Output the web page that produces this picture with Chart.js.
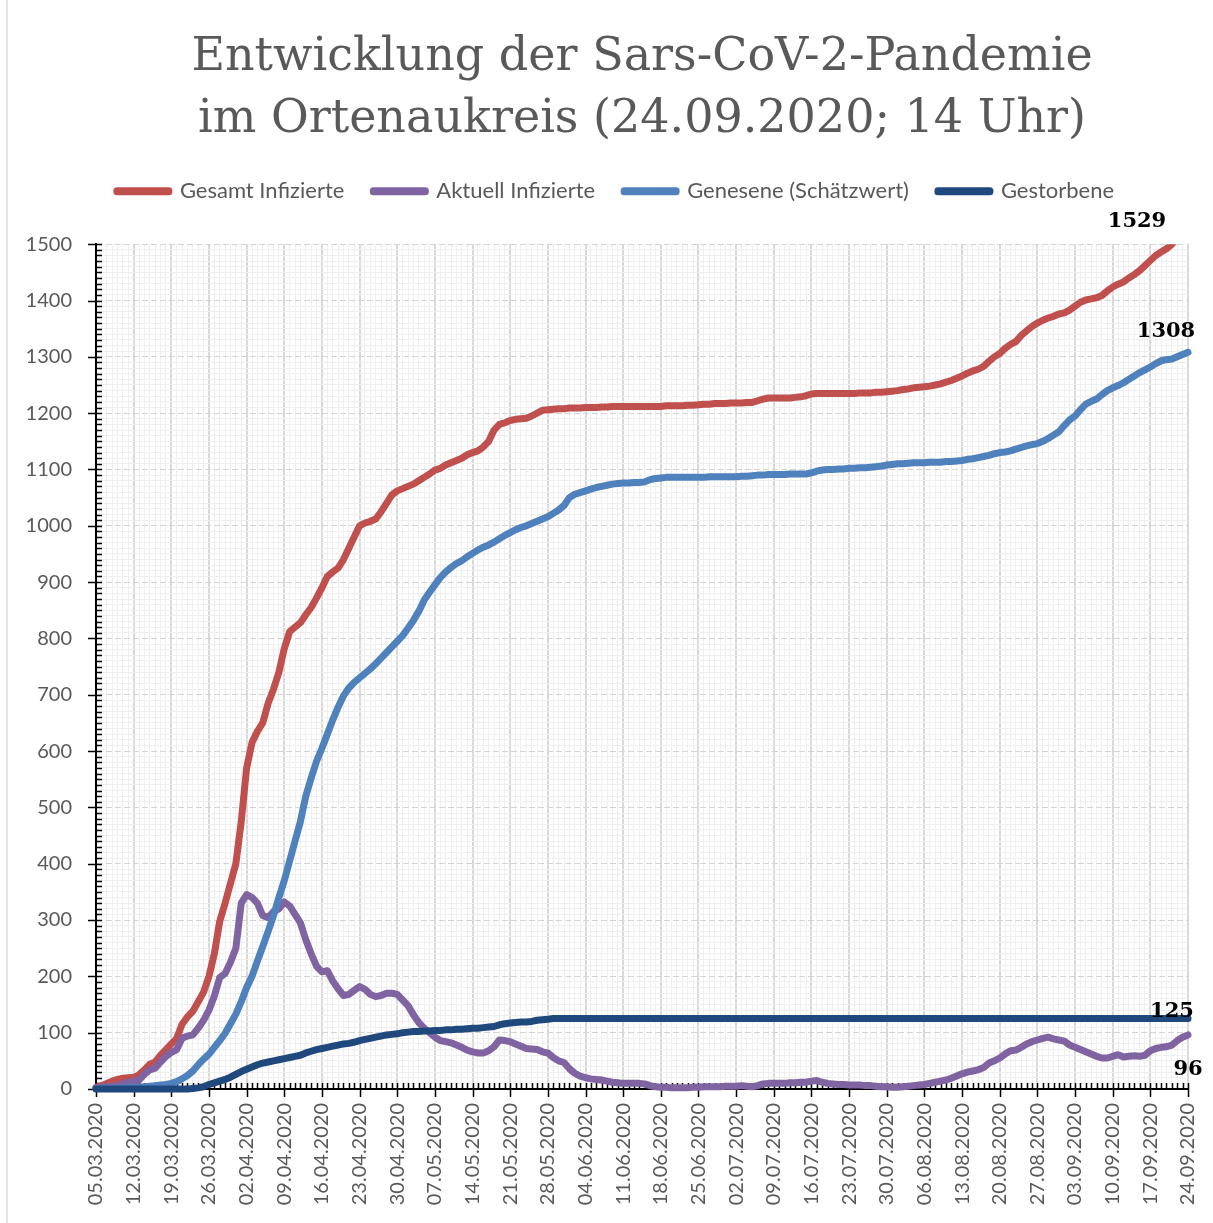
<!DOCTYPE html>
<html>
<head>
<meta charset="utf-8">
<title>Entwicklung der Sars-CoV-2-Pandemie im Ortenaukreis</title>
<script src="https://cdn.jsdelivr.net/npm/chart.js@4.4.0/dist/chart.umd.min.js"></script>
<style>
  html, body { margin: 0; padding: 0; background: #fff; }
  canvas { display: block; }
</style>
</head>
<body>
<canvas id="chart" width="1213" height="1223"></canvas>
<script>
// Daily values from 05.03.2020 to 24.09.2020, one row per week

const startDate = new Date(2020, 2, 5);

const gesamtInfizierte = [
    3, 6, 10, 14, 17, 19, 20,
    21, 25, 34, 44, 48, 60, 70,
    80, 90, 115, 128, 138, 155, 172,
    200, 240, 298, 330, 365, 400, 475,
    570, 615, 635, 650, 685, 710, 740,
    782, 812, 820, 828, 842, 855, 872,
    890, 910, 918, 925, 940, 960, 980,
    1000, 1005, 1008, 1012, 1025, 1040, 1055,
    1062, 1066, 1070, 1074, 1080, 1086, 1092,
    1099, 1102, 1108, 1112, 1116, 1120, 1126,
    1130, 1133, 1140, 1150, 1170, 1180, 1183,
    1187, 1189, 1190, 1191, 1195, 1200, 1205,
    1206, 1207, 1208, 1208, 1209, 1209, 1209,
    1210, 1210, 1210, 1211, 1211, 1212, 1212,
    1212, 1212, 1212, 1212, 1212, 1212, 1212,
    1212, 1213, 1213, 1213, 1213, 1214, 1214,
    1215, 1216, 1216, 1217, 1217, 1217, 1218,
    1218, 1218, 1219, 1219, 1222, 1225, 1227,
    1227, 1227, 1227, 1227, 1228, 1229, 1231,
    1234, 1235, 1235, 1235, 1235, 1235, 1235,
    1235, 1235, 1236, 1236, 1236, 1237, 1237,
    1238, 1239, 1240, 1242, 1243, 1245, 1246,
    1247, 1248, 1250, 1252, 1255, 1258, 1262,
    1266, 1271, 1275, 1278, 1283, 1292, 1300,
    1306, 1315, 1322, 1327, 1338, 1346, 1354,
    1360, 1365, 1369, 1372, 1376, 1378, 1383,
    1390, 1397, 1401, 1403, 1405, 1409, 1417,
    1424, 1429, 1433, 1440, 1446, 1453, 1462,
    1471, 1480, 1486, 1492, 1500, 1510, 1518,
    1529
];

const aktuellInfizierte = [
    2, 3, 4, 5, 6, 9, 12,
    14, 16, 26, 34, 37, 48, 58,
    65, 70, 90, 94, 96, 108, 122,
    140, 165, 198, 205, 225, 250, 330,
    345, 340, 330, 308, 304, 315, 320,
    332, 325, 310, 295, 265, 240, 218,
    208, 210, 192, 178, 166, 168, 175,
    182, 177, 168, 164, 166, 170, 170,
    168, 158, 148, 132, 118, 108, 100,
    92, 86, 84, 82, 78, 74, 69,
    66, 64, 64, 68, 75, 87, 86,
    84, 80, 76, 72, 71, 70, 66,
    64, 56, 50, 47, 36, 28, 23,
    20, 18, 17, 16, 14, 12, 11,
    10, 10, 10, 10, 9, 6, 4,
    3, 3, 2, 2, 2, 2, 3,
    3, 4, 4, 4, 4, 5, 5,
    5, 6, 5, 4, 6, 9, 10,
    10, 10, 10, 11, 11, 12, 12,
    14, 15, 12, 10, 9, 8, 8,
    7, 7, 7, 6, 6, 5, 4,
    4, 3, 3, 4, 5, 6, 7,
    8, 10, 12, 14, 16, 19, 23,
    27, 30, 32, 34, 38, 46, 50,
    55, 62, 68, 69, 74, 80, 84,
    87, 90, 92, 89, 87, 85, 78,
    74, 70, 66, 62, 58, 55, 55,
    58, 61, 57, 58, 59, 58, 60,
    68, 72, 74, 75, 78, 86, 92,
    96
];

const genesene = [
    1, 1, 1, 1, 1, 2, 2,
    2, 3, 4, 5, 6, 7, 8,
    10, 13, 18, 24, 32, 43, 53,
    62, 74, 86, 99, 116, 133, 155,
    180, 200, 227, 253, 280, 308, 340,
    370, 405, 440, 475, 520, 552, 582,
    605, 630, 655, 678, 698, 712, 722,
    730, 738, 746, 755, 765, 775, 785,
    795, 805, 818, 832, 848, 868, 882,
    895, 908, 918, 926, 933, 938, 945,
    951, 957, 962, 966, 971, 977, 983,
    988, 993, 997, 1000, 1004, 1008, 1012,
    1016, 1022, 1028, 1036, 1050, 1056, 1059,
    1062, 1065, 1068, 1070, 1072, 1074, 1075,
    1076, 1076, 1077, 1077, 1078, 1082, 1084,
    1085, 1086, 1086, 1086, 1086, 1086, 1086,
    1086, 1086, 1087, 1087, 1087, 1087, 1087,
    1087, 1088, 1088, 1089, 1090, 1090, 1091,
    1091, 1091, 1091, 1092, 1092, 1092, 1092,
    1094, 1097, 1099, 1100, 1100, 1101, 1101,
    1102, 1102, 1103, 1103, 1104, 1105, 1106,
    1108, 1109, 1110, 1110, 1111, 1112, 1112,
    1112, 1113, 1113, 1113, 1114, 1114, 1115,
    1116, 1118, 1119, 1121, 1123, 1125, 1128,
    1130, 1131, 1133, 1136, 1139, 1142, 1144,
    1146, 1150, 1155, 1161, 1167, 1178, 1188,
    1195, 1206, 1216, 1221, 1225, 1233, 1240,
    1245, 1249, 1254, 1260, 1266, 1272, 1277,
    1282, 1288, 1293, 1295, 1296, 1300, 1304,
    1308
];

const gestorbene = [
    0, 0, 0, 0, 0, 0, 0,
    0, 0, 0, 0, 0, 0, 0,
    0, 0, 0, 0, 1, 2, 4,
    8, 11, 14, 17, 21, 26, 31,
    35, 39, 43, 46, 48, 50, 52,
    54, 56, 58, 60, 64, 67, 70,
    72, 74, 76, 78, 80, 81, 83,
    86, 88, 90, 92, 94, 96, 97,
    98, 100, 101, 102, 102, 103, 103,
    104, 104, 105, 105, 106, 106, 107,
    108, 108, 109, 110, 111, 114, 116,
    117, 118, 119, 119, 120, 122, 123,
    124, 125, 125, 125, 125, 125, 125,
    125, 125, 125, 125, 125, 125, 125,
    125, 125, 125, 125, 125, 125, 125,
    125, 125, 125, 125, 125, 125, 125,
    125, 125, 125, 125, 125, 125, 125,
    125, 125, 125, 125, 125, 125, 125,
    125, 125, 125, 125, 125, 125, 125,
    125, 125, 125, 125, 125, 125, 125,
    125, 125, 125, 125, 125, 125, 125,
    125, 125, 125, 125, 125, 125, 125,
    125, 125, 125, 125, 125, 125, 125,
    125, 125, 125, 125, 125, 125, 125,
    125, 125, 125, 125, 125, 125, 125,
    125, 125, 125, 125, 125, 125, 125,
    125, 125, 125, 125, 125, 125, 125,
    125, 125, 125, 125, 125, 125, 125,
    125, 125, 125, 125, 125, 125, 125,
    125
];

const seriesNames = ['Gesamt Infizierte', 'Aktuell Infizierte', 'Genesene (Schätzwert)', 'Gestorbene'];
const seriesData = [gesamtInfizierte, aktuellInfizierte, genesene, gestorbene];
const seriesColors = ['#c0504d', '#8064a2', '#4f81bd', '#1f497d'];
// later series lie on top, as in the spreadsheet
const seriesOrder = [4, 3, 2, 1];

const titleLines = ['Entwicklung der Sars-CoV-2-Pandemie', 'im Ortenaukreis (24.09.2020; 14 Uhr)'];

const yMax = 1500;
const yMinorStep = 10;
const yMajorStep = 100;
const daysPerLabel = 7;

// offsets of the end value labels from the last point
const endLabelOffsets = [[-51, -23], [0, 35], [-22, -21], [-16, -7]];

const textGrey = '#595959';
const axisFont = { family: 'Lato', size: 20 };

function formatDate(d) {
    const dd = d.getDate().toString().padStart(2, '0');
    const mm = (d.getMonth() + 1).toString().padStart(2, '0');
    return `${dd}.${mm}.${d.getFullYear()}`;
}

const dayLabels = gesamtInfizierte.map((_, i) => {
    const d = new Date(startDate);
    d.setDate(d.getDate() + i);
    return formatDate(d);
});

// White page and the thin frame line on the left
const framePlugin = {
    id: 'frame',
    beforeDraw(chart) {
        const { ctx, width, height } = chart;
        ctx.save();
        ctx.fillStyle = '#ffffff';
        ctx.fillRect(0, 0, width, height);
        ctx.strokeStyle = '#d9d9d9';
        ctx.lineWidth = 1.5;
        ctx.beginPath();
        ctx.moveTo(7, 0);
        ctx.lineTo(7, height);
        ctx.stroke();
        ctx.restore();
    }
};

// Major and minor tick marks on both axes
const tickMarksPlugin = {
    id: 'tickMarks',
    beforeDatasetsDraw(chart) {
        const { ctx, chartArea, scales: { x, y } } = chart;
        ctx.save();
        ctx.strokeStyle = '#000000';
        ctx.lineWidth = 1.5;
        ctx.beginPath();
        x.ticks.forEach((t, i) => {
            const px = Math.round(x.getPixelForTick(i)) + 0.5;
            const major = i % daysPerLabel === 0;
            ctx.moveTo(px, chartArea.bottom - 6);
            ctx.lineTo(px, chartArea.bottom + (major ? 8 : 0));
        });
        y.ticks.forEach((t, i) => {
            const py = Math.round(y.getPixelForTick(i)) + 0.5;
            const major = t.value % yMajorStep === 0;
            ctx.moveTo(chartArea.left + 6, py);
            ctx.lineTo(chartArea.left - (major ? 8 : 0), py);
        });
        ctx.stroke();
        ctx.restore();
    }
};

// Last value of every series written next to the line end
const endLabelsPlugin = {
    id: 'endLabels',
    afterDatasetsDraw(chart) {
        const { ctx, chartArea } = chart;
        ctx.save();
        ctx.font = 'bold 21px "DejaVu Serif"';
        ctx.fillStyle = '#000000';
        ctx.textAlign = 'center';
        ctx.textBaseline = 'middle';
        chart.data.datasets.forEach((ds, i) => {
            const meta = chart.getDatasetMeta(i);
            const pt = meta.data[meta.data.length - 1];
            const py = Math.max(pt.y, chartArea.top);
            const value = ds.data[ds.data.length - 1];
            ctx.fillText(String(value), pt.x + endLabelOffsets[i][0], py + endLabelOffsets[i][1]);
        });
        ctx.restore();
    }
};

const datasets = seriesNames.map((name, i) => ({
    label: name,
    data: seriesData[i],
    borderColor: seriesColors[i],
    backgroundColor: seriesColors[i],
    borderWidth: 7,
    borderJoinStyle: 'round',
    borderCapStyle: 'round',
    pointRadius: 0,
    pointHoverRadius: 0,
    tension: 0,
    order: seriesOrder[i],
    clip: { left: 6, top: 0, right: 6, bottom: 6 }
}));

new Chart(document.getElementById('chart'), {
    type: 'line',
    data: {
        labels: dayLabels,
        datasets: datasets
    },
    options: {
        responsive: false,
        animation: false,
        devicePixelRatio: 1,
        layout: {
            padding: { left: 18, right: 0, top: 0, bottom: 0 }
        },
        plugins: {
            tooltip: { enabled: false },
            title: {
                display: true,
                text: titleLines,
                fullSize: false,
                color: textGrey,
                font: { family: 'DejaVu Serif', size: 46, weight: 'normal', lineHeight: 1.35 },
                padding: { top: 27, bottom: 0 }
            },
            legend: {
                display: true,
                position: 'top',
                labels: {
                    boxWidth: 52,
                    boxHeight: 1,
                    padding: 29,
                    color: textGrey,
                    font: { family: 'Lato', size: 22 },
                    sort: (a, b) => a.datasetIndex - b.datasetIndex
                }
            }
        },
        scales: {
            x: {
                type: 'category',
                position: 'bottom',
                ticks: {
                    autoSkip: false,
                    minRotation: 90,
                    maxRotation: 90,
                    padding: 14,
                    color: textGrey,
                    font: axisFont,
                    callback: function (val, i) {
                        return i % daysPerLabel === 0 ? this.getLabelForValue(val) : '';
                    }
                },
                grid: {
                    drawTicks: false,
                    color: ctx => ctx.index % daysPerLabel === 0 ? '#d9d9d9' : '#efefef',
                    lineWidth: ctx => ctx.index % daysPerLabel === 0 ? 2 : 1
                },
                border: { color: '#000000', width: 2 },
                afterFit(scale) {
                    scale.height = 134;
                    scale.paddingLeft = 0;
                    scale.paddingRight = 0;
                }
            },
            xTop: {
                type: 'category',
                position: 'top',
                display: true,
                ticks: { display: false },
                grid: { display: false, drawTicks: false },
                border: { display: false },
                afterFit(scale) { scale.height = 32; }
            },
            y: {
                type: 'linear',
                position: 'left',
                min: 0,
                max: yMax,
                ticks: {
                    stepSize: yMinorStep,
                    autoSkip: false,
                    padding: 24,
                    color: textGrey,
                    font: axisFont,
                    callback: v => v % yMajorStep === 0 ? String(v) : ''
                },
                grid: {
                    drawTicks: false,
                    color: ctx => ctx.tick && ctx.tick.value % yMajorStep === 0 ? '#d4d4d4' : '#efefef',
                    lineWidth: 1
                },
                border: {
                    color: '#000000',
                    width: 2,
                    dash: ctx => ctx.tick && ctx.tick.value % yMajorStep === 0 ? [6, 3] : []
                },
                afterFit(scale) { scale.width = 78; }
            },
            yRight: {
                type: 'linear',
                position: 'right',
                display: true,
                ticks: { display: false },
                grid: { display: false, drawTicks: false },
                border: { display: false },
                afterFit(scale) { scale.width = 25; }
            }
        }
    },
    plugins: [framePlugin, tickMarksPlugin, endLabelsPlugin]
});
</script>
</body>
</html>
